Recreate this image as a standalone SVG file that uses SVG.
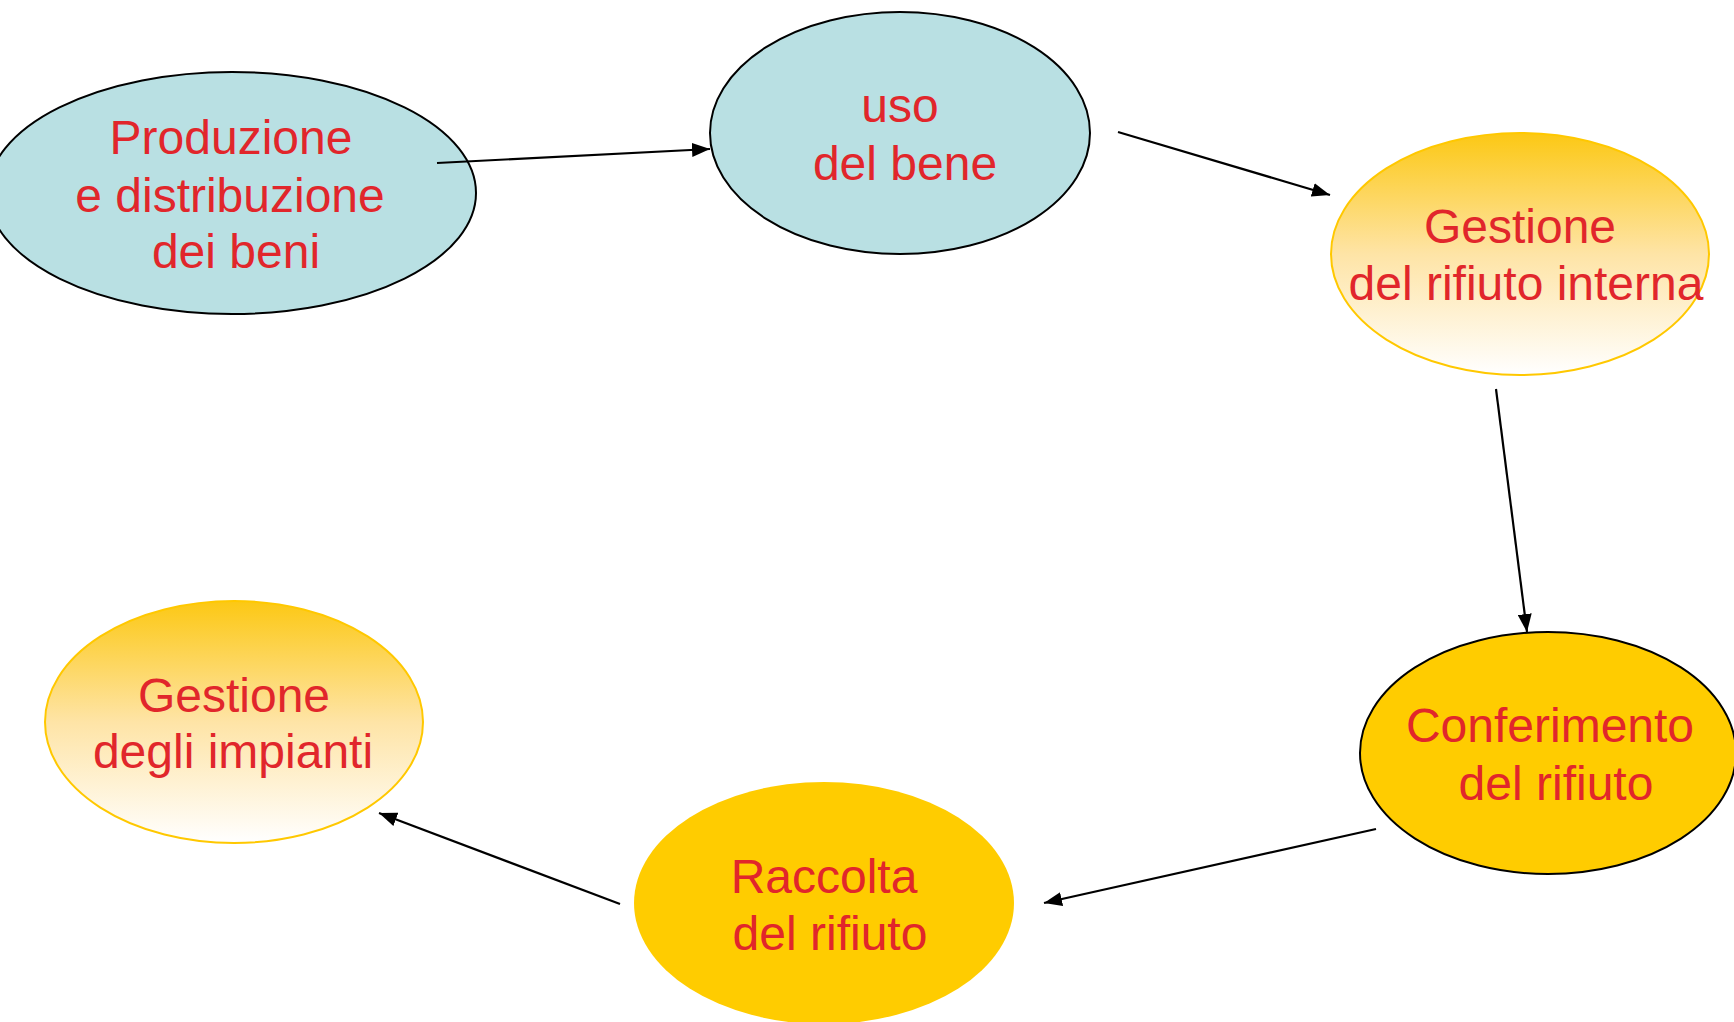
<svg xmlns="http://www.w3.org/2000/svg" width="1734" height="1022" viewBox="0 0 1734 1022">
<style>
.t{font-family:"Liberation Sans",Arial,sans-serif;font-size:48px;fill:#E1262B;text-anchor:middle}
.blue{fill:#B9E0E3;stroke:#000;stroke-width:2}
.goldg{fill:url(#g);stroke:#FFC800;stroke-width:2}
.gold{fill:#FFCC00;stroke:#000;stroke-width:2}
.goldn{fill:#FFCC00;stroke:none}
.c{stroke:#000;stroke-width:2.2;fill:none;marker-end:url(#a)}
</style>
<defs>
<linearGradient id="g" x1="0" y1="0" x2="0" y2="1">
<stop offset="0" stop-color="#FCC814"/>
<stop offset="0.5" stop-color="#FEE4A6"/>
<stop offset="1" stop-color="#FFFFFF"/>
</linearGradient>
<marker id="a" markerWidth="18" markerHeight="14" refX="18" refY="7" orient="auto" markerUnits="userSpaceOnUse">
<path d="M0,0 L18,7 L0,14 Z" fill="#000"/>
</marker>
</defs>
<rect width="1734" height="1022" fill="#fff"/>
<g id="n1">
<ellipse class="blue" cx="232" cy="193" rx="244" ry="121"/>
<text class="t" x="231" y="154">Produzione</text>
<text class="t" x="230" y="212">e distribuzione</text>
<text class="t" x="236" y="268">dei beni</text>
</g>
<g id="n2">
<ellipse class="blue" cx="900" cy="133" rx="190" ry="121"/>
<text class="t" x="900" y="122">uso</text>
<text class="t" x="905" y="180">del bene</text>
</g>
<g id="n3">
<ellipse class="goldg" cx="1520" cy="254" rx="189" ry="121"/>
<text class="t" x="1520" y="243">Gestione</text>
<text class="t" x="1526" y="300">del rifiuto interna</text>
</g>
<g id="n4">
<ellipse class="gold" cx="1548" cy="753" rx="188" ry="121"/>
<text class="t" x="1550" y="742">Conferimento</text>
<text class="t" x="1556" y="800">del rifiuto</text>
</g>
<g id="n5">
<ellipse class="goldn" cx="824" cy="903" rx="190" ry="121"/>
<text class="t" x="824" y="893">Raccolta</text>
<text class="t" x="830" y="950">del rifiuto</text>
</g>
<g id="n6">
<ellipse class="goldg" cx="234" cy="722" rx="189" ry="121"/>
<text class="t" x="234" y="712">Gestione</text>
<text class="t" x="233" y="768">degli impianti</text>
</g>
<g id="connectors">
<line class="c" x1="437" y1="163" x2="710" y2="149"/>
<line class="c" x1="1118" y1="132" x2="1330" y2="195"/>
<line class="c" x1="1496" y1="389" x2="1527" y2="632"/>
<line class="c" x1="1376" y1="829" x2="1044" y2="903"/>
<line class="c" x1="620" y1="904" x2="379" y2="813"/>
</g>
</svg>
